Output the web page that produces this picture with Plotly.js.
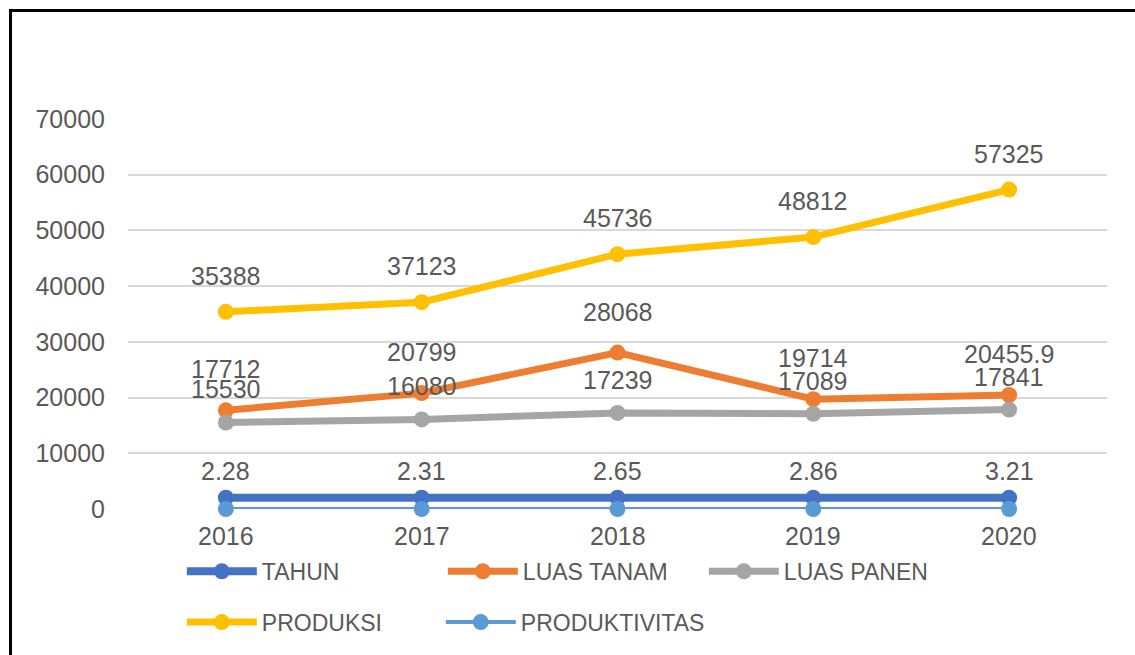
<!DOCTYPE html>
<html>
<head>
<meta charset="utf-8">
<script src="https://cdn.plot.ly/plotly-3.0.1.min.js"></script>
<style>
  html, body { margin: 0; padding: 0; background: #fff; }
  #wrap { position: relative; width: 1135px; height: 655px; overflow: hidden; }
  #chart { width: 1135px; height: 655px; }
  #frame { position: absolute; left: 9px; top: 9px; right: -5px; bottom: -5px;
           border-top: 3px solid #000; border-left: 3px solid #000; pointer-events: none; }
</style>
</head>
<body>
<div id="wrap">
  <div id="chart"></div>
  <div id="frame"></div>
</div>
<script>
const categories = ['2016', '2017', '2018', '2019', '2020'];
const tahun = [2016, 2017, 2018, 2019, 2020];
const luasTanam = [17712, 20799, 28068, 19714, 20455.9];
const luasPanen = [15530, 16080, 17239, 17089, 17841];
const produksi = [35388, 37123, 45736, 48812, 57325];
const produktivitas = [2.28, 2.31, 2.65, 2.86, 3.21];
const yTicks = [0, 10000, 20000, 30000, 40000, 50000, 60000, 70000];

const textColor = '#595959';
const fontFam = '"Liberation Sans", Arial, sans-serif';

function series(name, y, color, width, legend) {
  return {
    type: 'scatter', mode: 'lines+markers', name: name,
    x: categories, y: y, cliponaxis: false, legend: legend,
    line: { color: color, width: width },
    marker: { color: color, size: 16 }
  };
}

const traces = [
  series('TAHUN', tahun, '#4472C4', 8, 'legend'),
  series('LUAS TANAM', luasTanam, '#ED7D31', 7, 'legend'),
  series('LUAS PANEN', luasPanen, '#A5A5A5', 7, 'legend'),
  series('PRODUKSI', produksi, '#FFC000', 7, 'legend2'),
  series('PRODUKTIVITAS', produktivitas, '#5B9BD5', 4, 'legend3')
];

const annotations = [];
function addLabels(vals, shift) {
  vals.forEach((v, i) => {
    annotations.push({
      x: i, y: v, xref: 'x', yref: 'y',
      text: String(v), showarrow: false, yshift: shift,
      font: { family: fontFam, size: 25, color: textColor }
    });
  });
}
addLabels(produksi, 36);
addLabels(luasTanam, 41);
addLabels(luasPanen, 33);
addLabels(produktivitas, 38);
addLabels(tahun, -38);

const legendFont = { family: fontFam, size: 23, color: textColor };
function legendBox(x, y) {
  return {
    orientation: 'h', x: x, xanchor: 'left', y: y, yanchor: 'middle',
    entrywidth: 176, entrywidthmode: 'pixels', font: legendFont,
    bgcolor: 'rgba(0,0,0,0)', itemwidth: 70
  };
}

const layout = {
  width: 1135, height: 655,
  margin: { l: 128, r: 28, t: 119, b: 146 },
  paper_bgcolor: '#ffffff', plot_bgcolor: '#ffffff',
  font: { family: fontFam, color: textColor },
  xaxis: {
    type: 'category', range: [-0.5, 4.5], showticklabels: false,
    showgrid: false, zeroline: false, showline: false, ticks: ''
  },
  yaxis: {
    range: [0, 70000], tickvals: yTicks, ticktext: yTicks.map(String),
    showgrid: true, gridcolor: '#D9D9D9', gridwidth: 2,
    zeroline: false, showline: false, ticks: '',
    tickfont: { family: fontFam, size: 25, color: textColor }, ticklabelstandoff: 22
  },
  showlegend: true,
  legend: legendBox(0.055, -0.16),
  legend2: legendBox(0.055, -0.29),
  legend3: Object.assign(legendBox(0.3195, -0.29), { entrywidth: 220 }),
  annotations: annotations
};

Plotly.newPlot('chart', traces, layout, { displayModeBar: false, staticPlot: true });
</script>
</body>
</html>
